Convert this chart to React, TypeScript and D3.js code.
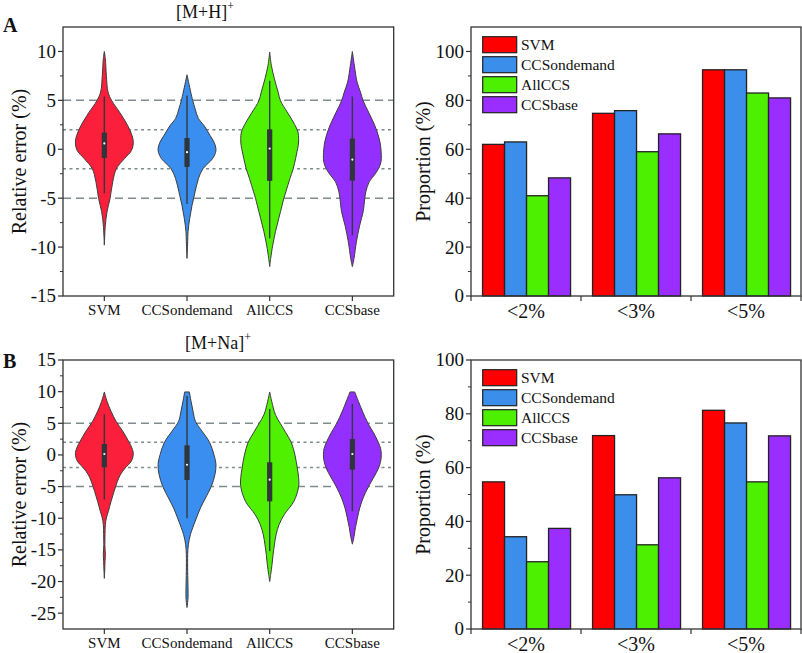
import React from 'react'
import * as d3 from 'd3'

const methods = ['SVM', 'CCSondemand', 'AllCCS', 'CCSbase']
const violinColors = ['#fb1f3b', '#3a8ef0', '#4ff000', '#9430ff']
const barColors = ['#ff0000', '#3b8eea', '#4cf000', '#9a2dff']
const thresholds = ['<2%', '<3%', '<5%']

// violin outlines: [relative error, half width (86 = widest)]
const mhProfiles = [
  [[10.0, 0], [9.25, 3], [7.55, 6], [5.85, 11], [4.97, 22], [3.8, 45], [2.45, 69], [1.43, 82], [0.75, 86], [-0.1, 81], [-0.95, 60], [-1.97, 36], [-3.33, 25], [-5.03, 17], [-6.39, 8], [-7.75, 3], [-9.8, 0]],
  [[7.62, 0], [5.85, 11], [4.97, 17], [4.15, 24], [3.13, 34], [2.45, 50], [1.43, 68], [0.75, 80], [-0.1, 86], [-0.95, 76], [-1.97, 48], [-3.0, 34], [-4.35, 24], [-5.71, 15], [-7.07, 8], [-8.44, 3], [-9.46, 2], [-11.15, 0]],
  [[9.93, 0], [8.57, 5], [7.21, 14], [5.85, 25], [4.97, 32], [3.8, 52], [2.79, 70], [1.77, 84], [1.09, 86], [0.41, 85], [-0.27, 81], [-0.95, 77], [-1.97, 70], [-3.0, 60], [-4.35, 48], [-5.03, 42], [-5.71, 37], [-7.07, 27], [-8.44, 17], [-9.8, 9], [-11.15, 3], [-12.0, 0]],
  [[10.0, 0], [8.57, 6], [6.87, 14], [5.85, 24], [4.97, 32], [3.8, 48], [2.79, 62], [1.94, 72], [0.75, 82], [-0.61, 86], [-1.29, 85], [-1.97, 78], [-2.65, 65], [-3.33, 50], [-4.35, 40], [-5.0, 37], [-6.39, 32], [-7.75, 22], [-9.46, 12], [-11.15, 5], [-12.0, 0]],
]
// [q1, median, q3, lower whisker, upper whisker]
const mhBoxes = [
  [-0.88, 0.6, 1.7, -4.5, 5.4],
  [-1.8, -0.3, 1.15, -5.6, 5.5],
  [-3.23, 0.07, 2.04, -9.1, 7.0],
  [-3.2, -1.05, 1.1, -8.8, 5.4],
]

const naProfiles = [
  [[9.95, 0], [8.47, 8], [6.89, 20], [5.3, 35], [3.73, 55], [2.15, 72], [1.1, 82], [0.15, 86], [-1.0, 80], [-2.06, 62], [-3.1, 48], [-4.16, 39], [-5.75, 29], [-7.33, 20], [-8.9, 12], [-9.96, 6], [-11.0, 3], [-12.6, 2], [-14.2, 1.5], [-15.75, 3], [-16.8, 2], [-18.4, 1], [-19.5, 0]],
  [[9.95, 7], [8.47, 12], [6.89, 18], [5.3, 25], [3.73, 45], [2.0, 67], [0.05, 80], [-1.53, 86], [-3.1, 83], [-5.0, 72], [-6.8, 55], [-8.37, 40], [-9.96, 28], [-11.5, 17], [-12.6, 10], [-14.2, 4], [-15.75, 2], [-18.4, 2], [-21.0, 3], [-22.6, 3], [-24.1, 0]],
  [[9.95, 0], [8.47, 6], [6.36, 17], [4.94, 32], [3.5, 48], [2.0, 64], [0.0, 75], [-2.06, 82], [-3.6, 86], [-5.0, 86], [-7.33, 72], [-9.44, 43], [-11.0, 28], [-12.6, 19], [-14.2, 14], [-15.75, 10], [-17.3, 7], [-18.9, 3], [-20.0, 0]],
  [[9.95, 7], [8.47, 18], [6.89, 30], [4.94, 47], [3.5, 63], [2.0, 77], [1.0, 84], [0.05, 86], [-1.0, 84], [-2.06, 78], [-3.5, 64], [-5.0, 48], [-6.8, 32], [-8.37, 22], [-9.96, 15], [-11.5, 9], [-12.9, 5], [-14.1, 0]],
]
const naBoxes = [
  [-1.95, 0.15, 1.73, -7.05, 6.4],
  [-3.95, -1.55, 1.52, -10.0, 9.3],
  [-7.33, -3.9, -1.16, -15.2, 7.27],
  [-2.32, 0.15, 2.52, -8.9, 8.05],
]

// proportion (%) per threshold, per method
const mhProportion = [[62, 63, 41, 48.3], [74.7, 75.8, 59, 66.3], [92.5, 92.5, 83, 81]]
const naProportion = [[54.7, 34.3, 25, 37.4], [71.9, 49.9, 31.3, 56.2], [81.3, 76.6, 54.7, 71.8]]

const mhTicks = [-15, -10, -5, 0, 5, 10]
const naTicks = [-25, -20, -15, -10, -5, 0, 5, 10, 15]
const barTicks = [0, 20, 40, 60, 80, 100]

const FONT = '"Liberation Serif", "Times New Roman", serif'
const FRAME = '#333'
const GUIDE = '#7f8b8d'

const VL = 63, VR = 393.7, BL = 471, BR = 801

function ViolinPanel({ top, bottom, domain, ticks, profiles, boxes, letter, letterY, title, titleX, titleY }: any) {
  const y = d3.scaleLinear(domain, [bottom, top])
  const x = d3.scaleBand(methods, [VL, VR])
  const w = d3.scaleLinear([0, 86], [0, x.bandwidth() * 0.35])
  const minor = d3.range(domain[0] + 2.5, domain[1], 2.5).filter(v => !ticks.includes(v))

  return (
    <g fontFamily={FONT} fill="#111">
      <text x={3} y={letterY} fontSize={20} fontWeight="bold">{letter}</text>
      <text x={titleX} y={titleY} fontSize={18}>[M+{title}]<tspan dy={-8} fontSize={12}>+</tspan></text>

      {[5, -5].map(v => (
        <line key={v} x1={VL} x2={VR} y1={y(v)} y2={y(v)} stroke={GUIDE} strokeWidth={1.5} strokeDasharray="8 5" />
      ))}
      {[2, -2].map(v => (
        <line key={v} x1={VL} x2={VR} y1={y(v)} y2={y(v)} stroke={GUIDE} strokeWidth={1.5} strokeDasharray="3 3.5" />
      ))}

      {methods.map((m, i) => {
        const cx = x(m)! + x.bandwidth() / 2
        const area = d3.area<number[]>()
          .y(d => y(d[0]))
          .x0(d => cx - w(d[1]))
          .x1(d => cx + w(d[1]))
          .curve(d3.curveCatmullRom)
        const [q1, med, q3, lo, hi] = boxes[i]
        return (
          <g key={m}>
            <path d={area(profiles[i])!} fill={violinColors[i]} stroke="#3c3c3c" strokeWidth={1} />
            <line x1={cx} x2={cx} y1={y(hi)} y2={y(lo)} stroke="#343a3c" strokeWidth={1.4} />
            <rect x={cx - 2.6} width={5.2} y={y(q3)} height={y(q1) - y(q3)} fill="#2f3538" />
            <circle cx={cx} cy={y(med)} r={1.1} fill="#fff" />
            <line x1={cx} x2={cx} y1={bottom} y2={bottom + 5} stroke={FRAME} strokeWidth={1.2} />
            <text x={cx} y={bottom + 19} fontSize={15} textAnchor="middle">{m}</text>
          </g>
        )
      })}

      {ticks.map((t: number) => (
        <g key={t}>
          <line x1={VL - 5} x2={VL} y1={y(t)} y2={y(t)} stroke={FRAME} strokeWidth={1.2} />
          <text x={VL - 7} y={y(t)} dy="0.34em" fontSize={19} textAnchor="end">{t}</text>
        </g>
      ))}
      {minor.map((t: number) => (
        <line key={t} x1={VL - 3} x2={VL} y1={y(t)} y2={y(t)} stroke={FRAME} strokeWidth={1} />
      ))}
      <text transform={`translate(25.5,${(top + bottom) / 2}) rotate(-90)`} fontSize={20} textAnchor="middle">Relative error (%)</text>

      <rect x={VL} y={top} width={VR - VL} height={bottom - top} fill="none" stroke={FRAME} strokeWidth={1.3} />
    </g>
  )
}

function BarPanel({ top, bottom, max, values }: any) {
  const y = d3.scaleLinear([0, max], [bottom, top])
  const x = d3.scaleBand(thresholds, [BL, BR])
  const inner = d3.scaleBand(methods, [x.bandwidth() * 0.105, x.bandwidth() * 0.905])
  const minor = d3.range(10, max, 20)
  const edges = [...thresholds.map(t => x(t)!), BR]

  return (
    <g fontFamily={FONT} fill="#111">
      {thresholds.map((t, gi) => (
        <g key={t}>
          {methods.map((m, i) => (
            <rect key={m} x={x(t)! + inner(m)!} width={inner.bandwidth()} y={y(values[gi][i])}
              height={bottom - y(values[gi][i])} fill={barColors[i]} stroke="#222" strokeWidth={1.3} />
          ))}
          <text x={x(t)! + x.bandwidth() / 2} y={bottom + 22} fontSize={20} textAnchor="middle">{t}</text>
        </g>
      ))}
      {edges.map(e => (
        <line key={e} x1={e} x2={e} y1={bottom} y2={bottom + 5} stroke={FRAME} strokeWidth={1.2} />
      ))}

      {barTicks.map(t => (
        <g key={t}>
          <line x1={BL - 5} x2={BL} y1={y(t)} y2={y(t)} stroke={FRAME} strokeWidth={1.2} />
          <text x={BL - 7} y={y(t)} dy="0.34em" fontSize={19} textAnchor="end">{t}</text>
        </g>
      ))}
      {minor.map(t => (
        <line key={t} x1={BL - 3} x2={BL} y1={y(t)} y2={y(t)} stroke={FRAME} strokeWidth={1} />
      ))}
      <text transform={`translate(430,${(top + bottom) / 2}) rotate(-90)`} fontSize={20} textAnchor="middle">Proportion (%)</text>

      {methods.map((m, i) => (
        <g key={m}>
          <rect x={BL + 11.7} y={top + 9.7 + i * 20} width={34} height={16} fill={barColors[i]} stroke="#222" strokeWidth={1.2} />
          <text x={BL + 50} y={top + 9.7 + i * 20 + 13.5} fontSize={15.5}>{m}</text>
        </g>
      ))}

      <rect x={BL} y={top} width={BR - BL} height={bottom - top} fill="none" stroke={FRAME} strokeWidth={1.3} />
    </g>
  )
}

export default function App() {
  return (
    <svg width={802} height={653} style={{ position: 'absolute', left: 0, top: 0, background: '#fff' }}>
      <rect width={802} height={653} fill="#fff" />
      <ViolinPanel top={27} bottom={296} domain={[-15, 12.5]} ticks={mhTicks} profiles={mhProfiles} boxes={mhBoxes}
        letter="A" letterY={32} title="H" titleX={176} titleY={18} />
      <ViolinPanel top={360} bottom={629} domain={[-27.5, 15]} ticks={naTicks} profiles={naProfiles} boxes={naBoxes}
        letter="B" letterY={368} title="Na" titleX={185} titleY={349} />
      <BarPanel top={27} bottom={296} max={110} values={mhProportion} />
      <BarPanel top={360} bottom={629} max={100} values={naProportion} />
    </svg>
  )
}
